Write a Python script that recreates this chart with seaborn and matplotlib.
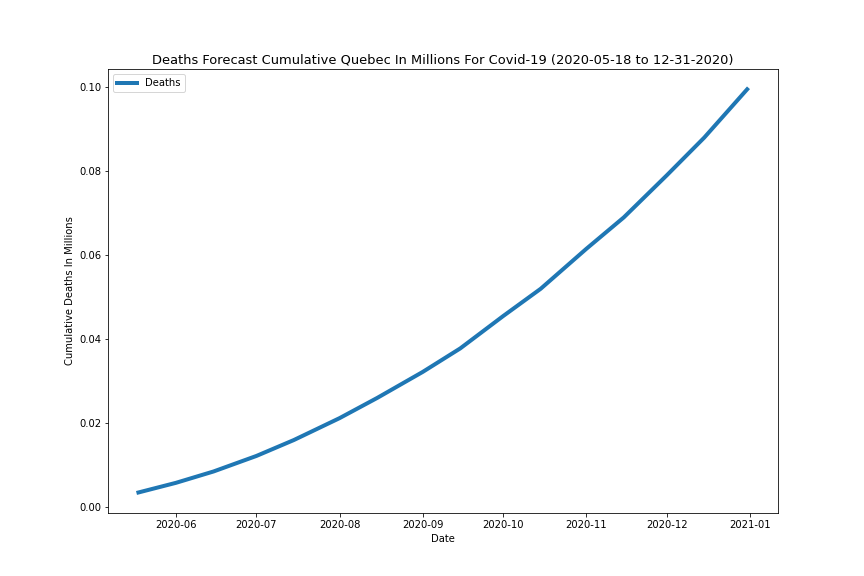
import pandas as pd
import seaborn as sns
import matplotlib.pyplot as plt

# values
dates = ["2020-05-18", "2020-06-01", "2020-06-15", "2020-07-01", "2020-07-15",
         "2020-08-01", "2020-08-15", "2020-09-01", "2020-09-15", "2020-10-01",
         "2020-10-15", "2020-11-01", "2020-11-15", "2020-12-01", "2020-12-15",
         "2020-12-31"]
deaths = [0.0035, 0.0058, 0.0085, 0.0122, 0.0160, 0.0212, 0.0260, 0.0322,
          0.0378, 0.0455, 0.0520, 0.0615, 0.0690, 0.0790, 0.0880, 0.0995]

df = pd.DataFrame({"Date": pd.to_datetime(dates), "Deaths": deaths})

plt.figure(figsize=(12, 8), dpi=72)
ax = sns.lineplot(data=df, x="Date", y="Deaths", color="#1f77b4", linewidth=4, label="Deaths")
ax.set_title("Deaths Forecast Cumulative Quebec In Millions For Covid-19 (2020-05-18 to 12-31-2020)",
             fontsize=13)
ax.set_xlabel("Date")
ax.set_ylabel("Cumulative Deaths In Millions")
ax.legend(loc="upper left")
plt.savefig("out.png")
